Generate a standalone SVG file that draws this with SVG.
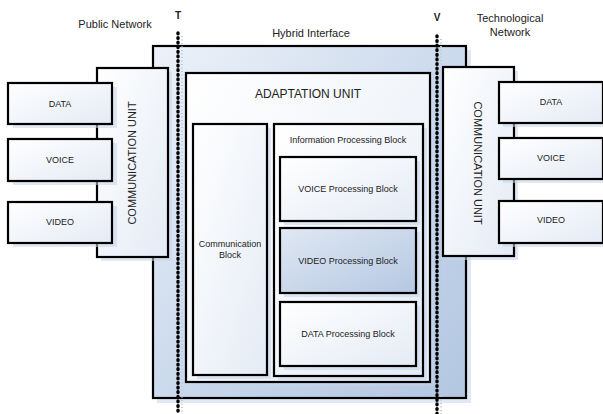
<svg xmlns="http://www.w3.org/2000/svg" width="603" height="414" viewBox="0 0 603 414">
<defs>
<linearGradient id="gw" x1="0" y1="0" x2="1" y2="1">
<stop offset="0" stop-color="#ffffff"/><stop offset="1" stop-color="#e4ebf5"/>
</linearGradient>
<linearGradient id="gout" x1="0" y1="0" x2="1" y2="1">
<stop offset="0" stop-color="#edf2f9"/><stop offset="0.6" stop-color="#c5d5ea"/><stop offset="1" stop-color="#b3c7e1"/>
</linearGradient>
<linearGradient id="gvid" x1="0" y1="0" x2="1" y2="1">
<stop offset="0" stop-color="#e0e8f3"/><stop offset="1" stop-color="#b5c8e2"/>
</linearGradient>
</defs>
<style>
.box{stroke:#000;stroke-width:2.2;fill:url(#gw)}
.sh{fill:#c6d5ea;opacity:0.55}
.t{font-family:"Liberation Sans",Arial,sans-serif;fill:#222;text-anchor:middle}
.s{font-size:9px}
.m{font-size:11px}
.b{font-size:10px;font-weight:bold}
.dot{stroke:#000;stroke-width:3.4;stroke-linecap:round;stroke-dasharray:0.8 3.8;fill:none}
.dsh{stroke:#b7c9e4;stroke-width:2;stroke-dasharray:1 2.5;fill:none}
</style>
<rect width="603" height="414" fill="#fff"/>

<g id="hybrid">
<rect class="sh" x="157" y="50" width="314" height="353"/>
<rect class="box" x="153" y="46" width="313" height="352" style="fill:url(#gout)"/>
</g>
<g id="adaptation">
<rect class="sh" x="190" y="77" width="244" height="309"/>
<rect class="box" x="186" y="73" width="244" height="309"/>
<text class="t" x="308" y="98" font-size="12">ADAPTATION UNIT</text>
</g>
<g id="commblock">
<rect class="sh" x="197" y="128" width="74" height="251"/>
<rect class="box" x="193" y="124" width="74" height="251"/>
<text class="t s" x="230" y="247">Communication</text>
<text class="t s" x="230" y="258">Block</text>
</g>
<g id="infoblock">
<rect class="sh" x="278" y="128" width="149" height="252"/>
<rect class="box" x="274" y="124" width="149" height="252"/>
<text class="t s" x="348" y="143">Information Processing Block</text>
</g>
<g id="voiceproc">
<rect class="sh" x="284" y="161" width="136" height="64"/>
<rect class="box" x="280" y="157" width="136" height="64"/>
<text class="t s" x="348" y="192">VOICE Processing Block</text>
</g>
<g id="videoproc">
<rect class="sh" x="284" y="232" width="136" height="65"/>
<rect class="box" x="280" y="228" width="136" height="65" style="fill:url(#gvid)"/>
<text class="t s" x="348" y="264">VIDEO Processing Block</text>
</g>
<g id="dataproc">
<rect class="sh" x="284" y="306" width="136" height="64"/>
<rect class="box" x="280" y="302" width="136" height="64"/>
<text class="t s" x="348" y="337">DATA Processing Block</text>
</g>

<g id="commL">
<rect class="sh" x="101" y="72" width="71" height="189"/>
<rect class="box" x="97" y="68" width="71" height="189"/>
<text class="t" font-size="11" transform="translate(136,163) rotate(-90)">COMMUNICATION UNIT</text>
</g>
<g id="dataL">
<rect class="sh" x="13" y="87" width="104" height="41"/>
<rect class="box" x="8" y="83" width="104" height="41"/>
<text class="t s" x="60" y="107">DATA</text>
</g>
<g id="voiceL">
<rect class="sh" x="13" y="143" width="104" height="42"/>
<rect class="box" x="8" y="139" width="104" height="42"/>
<text class="t s" x="60" y="163">VOICE</text>
</g>
<g id="videoL">
<rect class="sh" x="13" y="206" width="104" height="41"/>
<rect class="box" x="8" y="202" width="104" height="41"/>
<text class="t s" x="60" y="225">VIDEO</text>
</g>

<g id="commR">
<rect class="sh" x="447" y="71" width="71" height="189"/>
<rect class="box" x="443" y="67" width="71" height="189"/>
<text class="t" font-size="11" transform="translate(474,163) rotate(90)">COMMUNICATION UNIT</text>
</g>
<g id="dataR">
<rect class="sh" x="503" y="86" width="104" height="41"/>
<rect class="box" x="499" y="82" width="104" height="41"/>
<text class="t s" x="551" y="105">DATA</text>
</g>
<g id="voiceR">
<rect class="sh" x="503" y="142" width="104" height="41"/>
<rect class="box" x="499" y="138" width="104" height="41"/>
<text class="t s" x="551" y="161">VOICE</text>
</g>
<g id="videoR">
<rect class="sh" x="503" y="205" width="104" height="42"/>
<rect class="box" x="499" y="201" width="104" height="42"/>
<text class="t s" x="551" y="223">VIDEO</text>
</g>

<g id="boundaries">
<line class="dsh" x1="182" y1="36" x2="182" y2="414"/>
<line class="dsh" x1="441" y1="39" x2="441" y2="414"/>
<line class="dot" x1="178" y1="33" x2="178" y2="414"/>
<line class="dot" x1="437" y1="36" x2="437" y2="414"/>
</g>

<g id="labels">
<text class="t m" x="115" y="28">Public Network</text>
<text class="t b" x="178" y="19">T</text>
<text class="t m" x="311" y="37">Hybrid Interface</text>
<text class="t b" x="437" y="21">V</text>
<text class="t m" x="510" y="22">Technological</text>
<text class="t m" x="510" y="36">Network</text>
</g>
</svg>
